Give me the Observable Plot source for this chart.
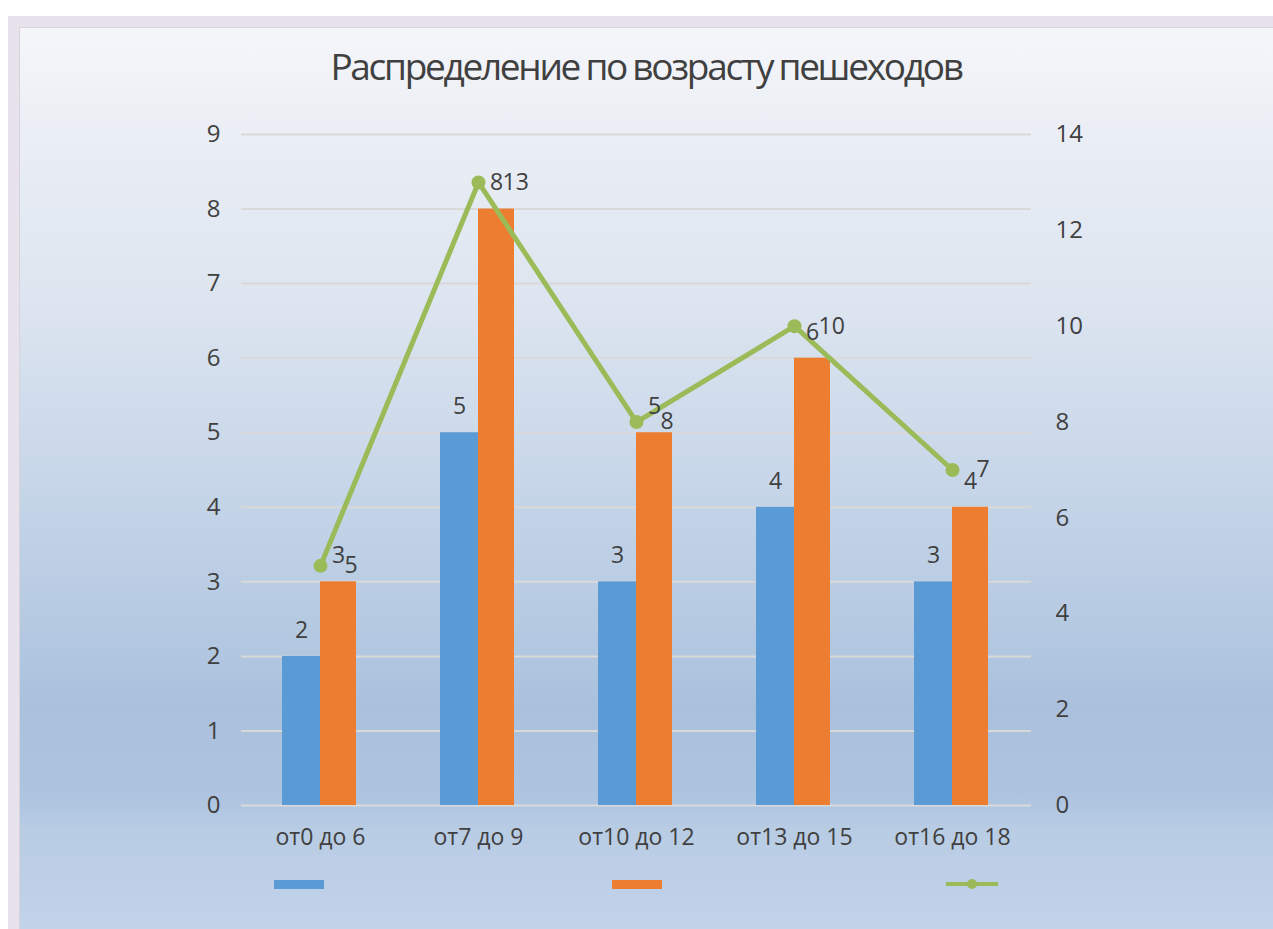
<!DOCTYPE html>
<html><head><meta charset="utf-8">
<script src="https://cdn.jsdelivr.net/npm/d3@7"></script>
<script src="https://cdn.jsdelivr.net/npm/@observablehq/plot@0.6"></script>
<style>
body{margin:0;background:#fff;width:1273px;height:929px;overflow:hidden;position:relative;font-family:"Open Sans",sans-serif;}
#frame{position:absolute;left:8px;top:16px;right:0;bottom:0;background:#e8e2ec;}
#panel{position:absolute;left:19px;top:27px;right:0;bottom:0;border-left:1px solid #d8d4de;border-top:1px solid #d8d4de;
background:linear-gradient(to bottom,#f5f6fa 0%,#ebeff5 11%,#dde5f0 30%,#c5d5e8 52%,#b2c7e0 69%,#abc0dd 75%,#adc3df 85%,#b8cce4 89%,#c2d3ea 100%);}
#title{position:absolute;top:47px;left:19px;right:0;text-align:center;font-size:37px;line-height:38px;color:#404040;letter-spacing:-2.3px;word-spacing:-1px;}
#chart{position:absolute;left:0;top:100px;}
.sw{position:absolute;}
</style></head>
<body>
<div id="frame"></div>
<div id="panel"></div>
<div id="title">Распределение по возрасту пешеходов</div>
<div id="chart"></div>
<div class="sw" style="left:274px;top:880px;width:50px;height:9px;background:#5b9bd5"></div>
<div class="sw" style="left:612px;top:880px;width:50px;height:9px;background:#ed7d31"></div>
<div class="sw" style="left:946px;top:882px;width:52px;height:4px;background:#9bbb59"></div>
<div class="sw" style="left:967px;top:879px;width:10px;height:10px;border-radius:50%;background:#9bbb59"></div>
<script>
const categories = ["от0 до 6","от7 до 9","от10 до 12","от13 до 15","от16 до 18"];
const blueValues = [2,5,3,4,3];
const orangeValues = [3,8,5,6,4];
const greenValues = [5,13,8,10,7];
const leftTicks = [0,1,2,3,4,5,6,7,8,9];
const rightTicks = [0,2,4,6,8,10,12,14];
const k = 9/14;
const rows = categories.map((c,i)=>({c, blue: blueValues[i], orange: orangeValues[i], green: greenValues[i]}));
const txt = "#404040";
const chart = Plot.plot({
  width:1273, height:770, marginLeft:241, marginRight:242, marginTop:34, marginBottom:65,
  style:{background:"transparent", fontFamily:"Open Sans", fontSize:"22px", color:txt},
  x:{domain:categories, padding:0, label:null},
  y:{domain:[0,9], label:null},
  marks:[
    Plot.gridY(leftTicks, {stroke:"#d9d9d9", strokeOpacity:1, strokeWidth:2}),
    Plot.axisY(leftTicks, {tickSize:0, tickPadding:21, tickFormat:d=>String(d), label:null, fontSize:24, fill:txt}),
    Plot.axisY(rightTicks.map(v=>v*k), {anchor:"right", tickFormat:d=>String(Math.round(d/k)), tickSize:0, tickPadding:24, label:null, fontSize:24, fill:txt}),
    Plot.axisX({tickSize:0, tickPadding:23, label:null, fontSize:23, fill:txt, style:{letterSpacing:"-0.6px"}}),
    Plot.barY(rows,{x:"c", y:"blue", fill:"#5b9bd5", insetLeft:41, insetRight:79}),
    Plot.barY(rows,{x:"c", y:"orange", fill:"#ed7d31", insetLeft:79, insetRight:43}),
    Plot.line(rows,{x:"c", y:d=>d.green*k, stroke:"#9bbb59", strokeWidth:5}),
    Plot.dot(rows,{x:"c", y:d=>d.green*k, r:7, fill:"#9bbb59"}),
    Plot.text(rows,{x:"c", y:"blue", text:"blue", dx:-19, dy:-26, fontSize:23, fill:txt}),
    Plot.text(rows,{x:"c", y:"orange", text:"orange", dx:18, dy:-26, fontSize:23, fill:txt}),
    Plot.text(rows,{x:"c", y:d=>d.green*k, text:"green", dx:24, textAnchor:"start", fontSize:23, fill:txt})
  ]
});
document.getElementById("chart").appendChild(chart);
</script>
</body></html>
